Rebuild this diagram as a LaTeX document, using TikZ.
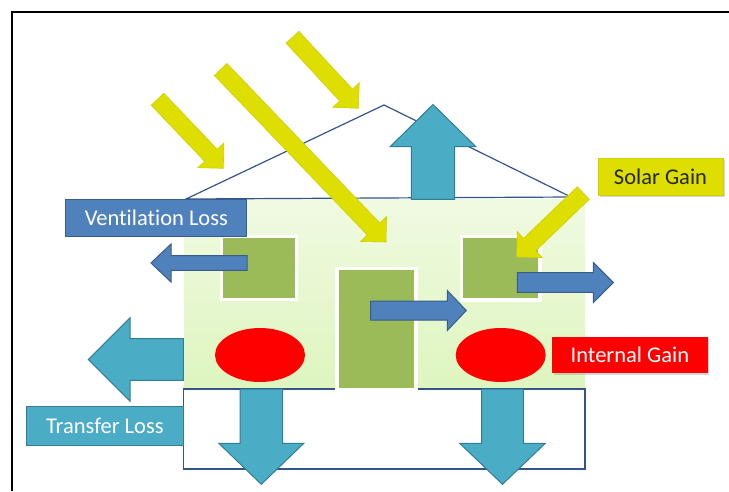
\documentclass[tikz,border=0pt]{standalone}
\usepackage{fontspec}
\setmainfont{Carlito}[Ligatures={NoCommon,NoRequired,NoContextual}]
\usetikzlibrary{calc,shadows}

\definecolor{ventblue}{RGB}{79,129,189}
\definecolor{ventedge}{RGB}{56,93,138}
\definecolor{transteal}{RGB}{75,172,198}
\definecolor{transedge}{RGB}{49,125,148}
\definecolor{sunyellow}{RGB}{222,222,0}
\definecolor{sunedge}{RGB}{208,208,0}
\definecolor{wingreen}{RGB}{155,187,89}
\definecolor{walltop}{RGB}{240,250,226}
\definecolor{wallbottom}{RGB}{222,245,190}
\definecolor{houseline}{RGB}{52,84,140}

\tikzset{
	labelbox/.style={inner sep=0pt, minimum height=37pt, font=\fontsize{22.5}{27}\selectfont},
	softshadow/.style={drop shadow={opacity=.3, shadow xshift=1.5pt, shadow yshift=-1.5pt}},
	house/.style={draw=houseline, line width=1.2pt},
	pane/.style={fill=wingreen, draw=white, line width=3.5pt, softshadow},
	heater/.style={fill=red},
	ventarrow/.style={fill=ventblue, draw=ventedge, line width=1pt},
	transarrow/.style={fill=transteal, draw=transedge, line width=1pt},
	sunarrow/.style={fill=sunyellow, draw=sunedge, line width=.6pt},
}

% block arrow: style, tail, tip, half shaft, half head, head length
\newcommand{\blockarrow}[6]{%
	\coordinate (ba-t) at (#2);
	\coordinate (ba-h) at (#3);
	\coordinate (ba-b) at ($(ba-h)!#6!(ba-t)$);
	\draw[#1] ($(ba-t)!#4!90:(ba-h)$) -- ($(ba-b)!#4!90:(ba-h)$) -- ($(ba-b)!#5!90:(ba-h)$)
		-- (ba-h) -- ($(ba-b)!#5!-90:(ba-h)$) -- ($(ba-b)!#4!-90:(ba-h)$) -- ($(ba-t)!#4!-90:(ba-h)$) -- cycle;}

\begin{document}
\begin{tikzpicture}[x=1pt, y=-1pt]
	\useasboundingbox (0,0) rectangle (729,491);
	\draw[line width=2pt] (12,491) -- (12,12) -- (729,12);

	% house
	\shade[top color=walltop, bottom color=wallbottom] (184.6,199.3) rectangle (585,389);
	\draw[house] (183.6,389) rectangle (585,469);
	\draw[house] (186,199) -- (384,105) -- (571,197) -- cycle;

	% windows, door, heaters
	\draw[pane] (221.5,236.5) rectangle (296.5,299.5);
	\draw[pane] (337,268.5) rectangle (416,390);
	\draw[pane] (461.7,236.7) rectangle (540,300);
	\fill[heater] (260,355) ellipse [x radius=45, y radius=27];
	\fill[heater] (500.7,355) ellipse [x radius=45, y radius=27];

	% transfer losses
	\blockarrow{transarrow}{433,199.3}{433,104.5}{21.6pt}{42.7pt}{42pt}
	\blockarrow{transarrow}{183.3,359.5}{88.3,359.5}{20.8pt}{41.7pt}{41.7pt}
	\blockarrow{transarrow}{261.3,389}{261.3,484.3}{21.3pt}{42.5pt}{41pt}
	\blockarrow{transarrow}{502.5,389}{502.5,484.3}{20.8pt}{42.8pt}{41pt}

	% ventilation losses
	\blockarrow{ventarrow}{247,263}{151,263}{7.3pt}{19pt}{20pt}
	\blockarrow{ventarrow}{370.5,310.5}{466.3,310.5}{9.5pt}{20pt}{19pt}
	\blockarrow{ventarrow}{517.3,282.5}{613.3,282.5}{9.8pt}{20pt}{20pt}

	% sun rays
	\blockarrow{sunarrow}{157.5,99.2}{223.3,168.3}{8.7pt}{18pt}{18pt}
	\blockarrow{sunarrow}{220.7,69.5}{386,242}{8.7pt}{18pt}{18pt}
	\blockarrow{sunarrow}{292.5,37.2}{358.3,108.3}{8.7pt}{18pt}{18pt}
	\blockarrow{sunarrow}{583.3,193}{516.7,257}{8.7pt}{18pt}{18pt}

	% labels
	\node[labelbox, fill=ventblue, draw=ventedge, line width=1pt, text=white, minimum width=181pt] (ventlabel) at (156.4,218) {Ventilation Loss};
	\node[labelbox, fill=sunyellow, draw=sunedge, line width=.6pt, text=black!85, minimum width=125pt, minimum height=37.7pt, softshadow] (sunlabel) at (660.5,176.9) {Solar Gain};
	\node[labelbox, fill=red, text=white, minimum width=155.7pt, minimum height=36.6pt, softshadow] (heatlabel) at (629.9,355) {Internal Gain};
	\node[labelbox, fill=transteal, draw=transedge, line width=1pt, text=white, minimum width=156.3pt, minimum height=39pt] (translabel) at (104.9,426.2) {Transfer Loss};
\end{tikzpicture}
\end{document}
